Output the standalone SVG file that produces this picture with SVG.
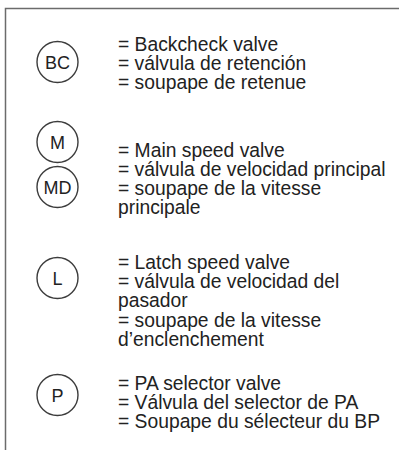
<svg xmlns="http://www.w3.org/2000/svg" width="399" height="450" viewBox="0 0 399 450">
<style>
.frame{fill:none;stroke:#6b6b6b;stroke-width:1.5}
.sym{fill:#fff;stroke:#3c3c3c;stroke-width:1.4}
.lbl{font-family:"Liberation Sans",Arial,sans-serif;font-size:18px;fill:#222;text-anchor:middle}
.txt{font-family:"Liberation Sans",Arial,sans-serif;font-size:19.3px;fill:#222}
</style>
<rect width="399" height="450" fill="#fff"/>
<path class="frame" d="M5.5,450 V8.5 H399"/>
<g id="BC"><circle class="sym" cx="57.5" cy="62" r="20.5"/><text class="lbl" x="57.5" y="68.5">BC</text></g>
<g id="BC-text" class="txt"><text x="118" y="51">= Backcheck valve</text><text x="118" y="70">= válvula de retención</text><text x="118" y="89">= soupape de retenue</text></g>
<g id="M"><circle class="sym" cx="57.5" cy="142" r="20.5"/><text class="lbl" x="57.5" y="148.5">M</text></g>
<g id="MD"><circle class="sym" cx="57.5" cy="187" r="20.5"/><text class="lbl" x="57.5" y="193.5">MD</text></g>
<g id="M-text" class="txt"><text x="118" y="157">= Main speed valve</text><text x="118" y="176">= válvula de velocidad principal</text><text x="118" y="195">= soupape de la vitesse</text><text x="118" y="214">principale</text></g>
<g id="L"><circle class="sym" cx="57.5" cy="278" r="20.5"/><text class="lbl" x="57.5" y="284.5">L</text></g>
<g id="L-text" class="txt"><text x="118" y="269">= Latch speed valve</text><text x="118" y="288">= válvula de velocidad del</text><text x="118" y="307">pasador</text><text x="118" y="327">= soupape de la vitesse</text><text x="118" y="346">d’enclenchement</text></g>
<g id="P"><circle class="sym" cx="57.5" cy="395" r="20.5"/><text class="lbl" x="57.5" y="401.5">P</text></g>
<g id="P-text" class="txt"><text x="118" y="390">= PA selector valve</text><text x="118" y="409">= Válvula del selector de PA</text><text x="118" y="428">= Soupape du sélecteur du BP</text></g>
</svg>
